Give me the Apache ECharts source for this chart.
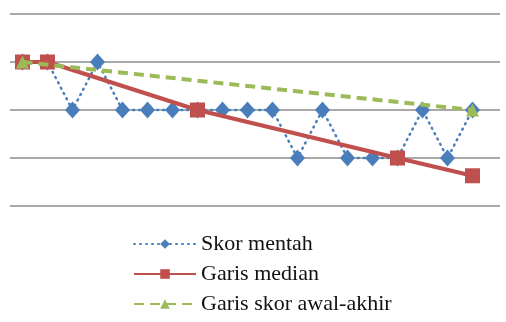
<!DOCTYPE html>
<html>
<head>
<meta charset="utf-8">
<script src="https://cdn.jsdelivr.net/npm/echarts@6/dist/echarts.min.js"></script>
<style>
  html, body { margin: 0; padding: 0; background: #fff; }
  #chart { width: 506px; height: 322px; }
</style>
</head>
<body>
<div id="chart"></div>
<script>
// Observation sessions 1..19
const sessions = [1, 2, 3, 4, 5, 6, 7, 8, 9, 10, 11, 12, 13, 14, 15, 16, 17, 18, 19];

// Raw scores per session
const rawScores = [3, 3, 2, 3, 2, 2, 2, 2, 2, 2, 2, 1, 2, 1, 1, 1, 2, 1, 2];

// Median line anchor points (null where the line only passes through)
const medianLine = [3, 3, null, null, null, null, null, 2, null, null, null, null, null, null, null, 1, null, null, 0.63];

// Start-to-end score line
const startEndLine = [3, null, null, null, null, null, null, null, null, null, null, null, null, null, null, null, null, null, 2];

const seriesNames = ['Skor mentah', 'Garis median', 'Garis skor awal-akhir'];
const colors = ['#4a7ebb', '#c0504d', '#9bbb59'];

// pair each value with its session number
const pairs = vals => sessions.map((s, i) => [s, vals[i]]);

const chart = echarts.init(document.getElementById('chart'), null, { renderer: 'canvas' });

chart.setOption({
  animation: false,
  backgroundColor: '#ffffff',
  grid: { left: 10, right: 6, top: 14, height: 192 },
  xAxis: {
    type: 'value',
    min: 0.5,
    max: 20.1,
    axisLine: { show: false },
    axisTick: { show: false },
    axisLabel: { show: false },
    splitLine: { show: false }
  },
  yAxis: {
    type: 'value',
    min: 0,
    max: 4,
    interval: 1,
    axisLine: { show: false },
    axisTick: { show: false },
    axisLabel: { show: false },
    splitLine: { show: true, lineStyle: { color: '#8c8c8c', width: 1.5 } }
  },
  legend: {
    orient: 'vertical',
    left: 128,
    top: 228,
    itemWidth: 62,
    itemHeight: 12,
    itemGap: 8,
    textStyle: { fontFamily: 'Liberation Serif', fontSize: 22, lineHeight: 22, color: '#111' },
    data: seriesNames
  },
  series: [
    {
      name: seriesNames[0],
      type: 'line',
      data: pairs(rawScores),
      z: 2,
      color: colors[0],
      symbol: 'diamond',
      symbolSize: [15, 17],
      lineStyle: { color: colors[0], width: 2.5, type: [1, 5], cap: 'round' },
      itemStyle: { color: colors[0] }
    },
    {
      name: seriesNames[1],
      type: 'line',
      data: pairs(medianLine),
      connectNulls: true,
      z: 3,
      color: colors[1],
      symbol: 'rect',
      symbolSize: 15,
      lineStyle: { color: colors[1], width: 4 },
      itemStyle: { color: colors[1] }
    },
    {
      name: seriesNames[2],
      type: 'line',
      data: pairs(startEndLine),
      connectNulls: true,
      z: 4,
      color: colors[2],
      symbol: 'triangle',
      symbolSize: 13,
      lineStyle: { color: colors[2], width: 4, type: [10, 6] },
      itemStyle: { color: colors[2] }
    }
  ]
});
</script>
</body>
</html>
